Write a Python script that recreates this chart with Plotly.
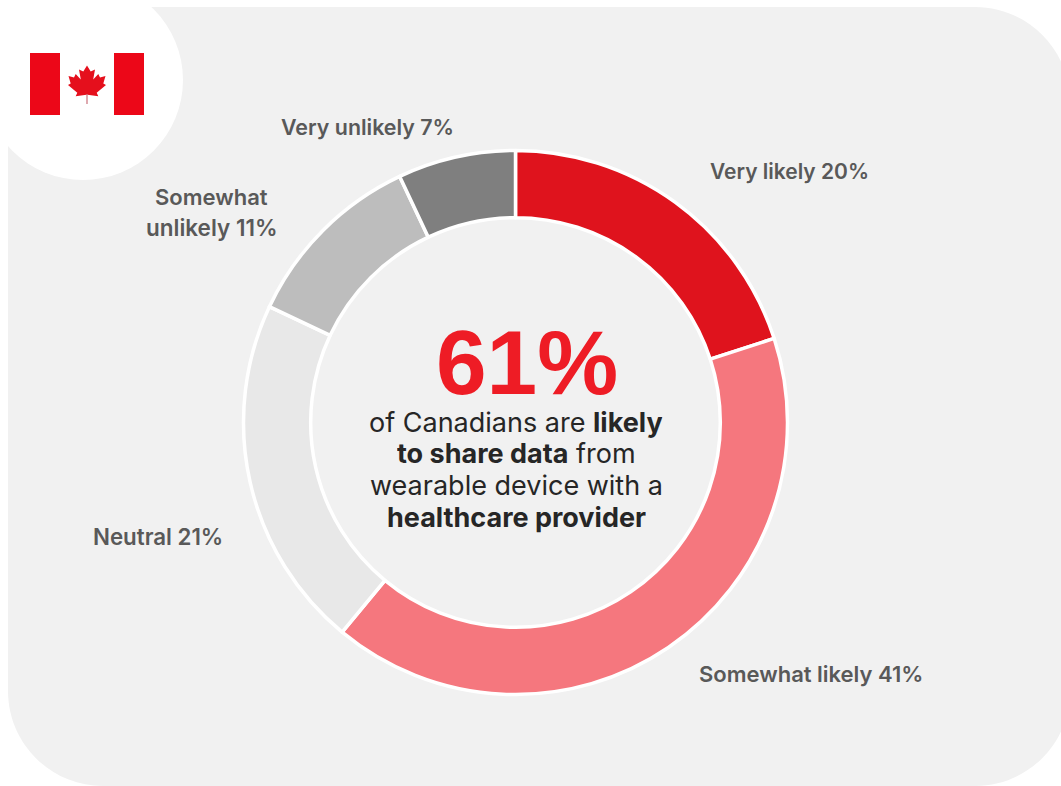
import plotly.graph_objects as go

WIDTH, HEIGHT = 1061, 786

# Survey responses, clockwise from twelve o'clock
categories = ["Very likely", "Somewhat likely", "Neutral", "Somewhat unlikely", "Very unlikely"]
shares = [20, 41, 21, 11, 7]
slice_colors = ["#DF131D", "#F5777E", "#E8E8E8", "#BDBDBD", "#7F7F7F"]
headline = "61%"

CENTER_X, CENTER_Y, RADIUS = 515.5, 422.5, 272


def fx(px):
    return px / WIDTH


def fy(px):
    return 1 - px / HEIGHT


def path(points):
    """Closed SVG path from pixel points, expressed in paper coordinates."""
    head, *rest = points
    body = f"M{fx(head[0])},{fy(head[1])}"
    body += "".join(f"L{fx(x)},{fy(y)}" for x, y in rest)
    return body + "Z"


def panel_path(left, top, right, bottom, r):
    """Rounded panel that runs off the right and bottom edges of the page."""
    kx, ky = r / WIDTH, r / HEIGHT
    cx, cy = kx * 0.448, ky * 0.448  # control offset giving a circular corner
    l, t, rt, b = fx(left), fy(top), fx(right), fy(bottom)
    return (
        f"M{l + kx},{t}L{rt - kx},{t}C{rt - cx},{t} {rt},{t - cy} {rt},{t - ky}"
        f"L{rt},{b + ky}C{rt},{b + cy} {rt - cx},{b} {rt - kx},{b}"
        f"L{l + kx},{b}C{l + cx},{b} {l},{b + cy} {l},{b + ky}"
        f"L{l},{t - ky}C{l},{t - cy} {l + cx},{t} {l + kx},{t}Z"
    )


# Right half of the maple leaf, mirrored about the flag's centre line
LEAF_X = 87
leaf_right = [
    (0, 65.5), (3.7, 71.5), (8, 69.5), (6.2, 79.5), (11.3, 74), (13, 77.5),
    (18.5, 76), (16.3, 83.5), (19, 85), (9.7, 92.7), (11.3, 96.3), (0.5, 94.7),
]
leaf = [(LEAF_X + dx, y) for dx, y in leaf_right]
leaf += [(LEAF_X - dx, y) for dx, y in reversed(leaf_right) if dx != 0]

shapes = [
    dict(type="path", xref="paper", yref="paper", path=panel_path(8, 7, 1070, 786, 95),
         fillcolor="#F1F1F1", line_width=0, layer="below"),
    dict(type="circle", xref="paper", yref="paper", x0=fx(-17), x1=fx(183), y0=fy(-20), y1=fy(180),
         fillcolor="#FFFFFF", line_width=0, layer="below"),
    dict(type="rect", xref="paper", yref="paper", x0=fx(30), x1=fx(60), y0=fy(53), y1=fy(115),
         fillcolor="#EC0718", line_width=0),
    dict(type="rect", xref="paper", yref="paper", x0=fx(114), x1=fx(144), y0=fy(53), y1=fy(115),
         fillcolor="#EC0718", line_width=0),
    dict(type="path", xref="paper", yref="paper", path=path(leaf),
         fillcolor="#E50F1C", line_width=0),
    dict(type="rect", xref="paper", yref="paper", x0=fx(86.4), x1=fx(87.6), y0=fy(94), y1=fy(104),
         fillcolor="#C9707A", line_width=0),
]

BODY_FONT = dict(family="Inter", size=27, color="#262626")


def label_font(size):
    return dict(family="Inter", size=size, color="#595959", weight=600)


def note(x, y, text, font, height=None):
    return dict(x=fx(x), y=fy(y), xref="paper", yref="paper", text=text, font=font, height=height,
                showarrow=False, xanchor="center", yanchor="middle", align="center")


# Slice labels: one line each, except the two-line "Somewhat unlikely"
annotations = [
    note(789, 171.5, f"{categories[0]} {shares[0]}%", label_font(21)),
    note(811, 673.5, f"{categories[1]} {shares[1]}%", label_font(22)),
    note(158, 536.5, f"{categories[2]} {shares[2]}%", label_font(22.3)),
    note(211.5, 197, "Somewhat", label_font(22)),
    note(211.5, 227, f"unlikely {shares[3]}%", label_font(22.5)),
    note(367.5, 126.5, f"{categories[4]} {shares[4]}%", label_font(21.4)),
]
annotations.append(note(527, 362, f"<b>{headline}</b>",
                        dict(family="Liberation Sans", size=91, color="#EE1C25"), height=84))
annotations += [
    note(516, 422, "of Canadians are <b>likely</b>", BODY_FONT, 31),
    note(516, 453, "<b>to share data</b> from", BODY_FONT, 31),
    note(516, 485, "wearable device with a", BODY_FONT, 31),
    note(516, 517, "<b>healthcare provider</b>", BODY_FONT, 31),
]

fig = go.Figure(
    go.Pie(
        labels=categories,
        values=shares,
        sort=False,
        direction="clockwise",
        rotation=0,
        hole=0.753,
        textinfo="none",
        marker=dict(colors=slice_colors, line=dict(color="#FFFFFF", width=3.5)),
        domain=dict(
            x=[fx(CENTER_X - RADIUS), fx(CENTER_X + RADIUS)],
            y=[fy(CENTER_Y + RADIUS), fy(CENTER_Y - RADIUS)],
        ),
        showlegend=False,
    )
)
fig.update_layout(
    width=WIDTH,
    height=HEIGHT,
    margin=dict(l=0, r=0, t=0, b=0),
    paper_bgcolor="#FFFFFF",
    plot_bgcolor="rgba(0,0,0,0)",
    shapes=shapes,
    annotations=annotations,
)
fig.write_html("out.html", config=dict(displayModeBar=False))
